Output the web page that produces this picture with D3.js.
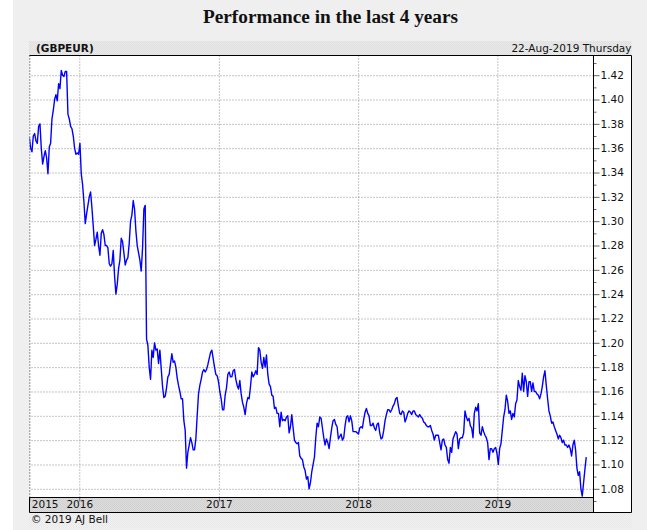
<!DOCTYPE html>
<html><head><meta charset="utf-8">
<script src="https://cdn.jsdelivr.net/npm/d3@7/dist/d3.min.js"></script>
<style>
html,body{margin:0;padding:0;background:#fff;}
svg{display:block;}
</style></head><body>
<svg id="chart" width="647" height="530"></svg>
<script>
// ---------- data ----------
const titleText = "Performance in the last 4 years";
const symbolText = "(GBPEUR)";
const dateText = "22-Aug-2019 Thursday";
const copyrightText = "© 2019 AJ Bell";
const seriesStart = "2015-08-23";
const seriesEnd = "2019-08-22";
const axisStart = "2015-08-23";
const axisEnd = "2019-09-10";
const yearTickDates = ["2015-08-23", "2016-01-01", "2017-01-01", "2018-01-01", "2019-01-01"];
const yearTickLabels = ["2015", "2016", "2017", "2018", "2019"];
const yMajorTicks = [1.08, 1.10, 1.12, 1.14, 1.16, 1.18, 1.20, 1.22, 1.24, 1.26, 1.28, 1.30, 1.32, 1.34, 1.36, 1.38, 1.40, 1.42];
const yMinorTicks = [1.07, 1.09, 1.11, 1.13, 1.15, 1.17, 1.19, 1.21, 1.23, 1.25, 1.27, 1.29, 1.31, 1.33, 1.35, 1.37, 1.39, 1.41, 1.43];
// GBP/EUR rate, sampled twice a week from seriesStart to seriesEnd
const rates = [
1.369,1.360,1.357,1.370,1.372,1.366,1.364,1.378,1.380,1.360,
1.347,1.353,1.358,1.352,1.339,1.361,1.364,1.384,1.391,1.400,
1.404,1.399,1.413,1.409,1.424,1.420,1.419,1.423,1.423,1.388,
1.384,1.378,1.376,1.370,1.360,1.355,1.356,1.355,1.364,1.339,
1.330,1.316,1.298,1.306,1.313,1.320,1.324,1.311,1.296,1.280,
1.285,1.291,1.280,1.272,1.290,1.293,1.289,1.280,1.280,1.278,
1.265,1.263,1.265,1.276,1.255,1.240,1.248,1.261,1.268,1.286,
1.283,1.274,1.264,1.268,1.270,1.282,1.300,1.305,1.317,1.310,
1.292,1.280,1.274,1.268,1.259,1.278,1.310,1.313,1.203,1.198,
1.180,1.170,1.194,1.188,1.200,1.194,1.195,1.183,1.194,1.179,
1.164,1.155,1.156,1.163,1.172,1.174,1.183,1.191,1.184,1.185,
1.180,1.171,1.165,1.160,1.154,1.154,1.136,1.128,1.097,1.110,
1.116,1.122,1.118,1.112,1.112,1.121,1.140,1.158,1.165,1.170,
1.176,1.178,1.176,1.178,1.182,1.187,1.192,1.194,1.187,1.180,
1.174,1.173,1.168,1.160,1.154,1.145,1.145,1.157,1.163,1.174,
1.176,1.172,1.172,1.177,1.178,1.170,1.165,1.162,1.169,1.158,
1.151,1.147,1.141,1.150,1.155,1.154,1.164,1.176,1.172,1.174,
1.177,1.174,1.196,1.194,1.184,1.179,1.188,1.180,1.190,1.174,
1.166,1.164,1.157,1.156,1.146,1.147,1.142,1.142,1.131,1.143,
1.136,1.137,1.136,1.139,1.140,1.126,1.131,1.141,1.130,1.120,
1.118,1.117,1.118,1.107,1.105,1.104,1.098,1.095,1.088,1.090,
1.080,1.085,1.094,1.100,1.106,1.122,1.134,1.131,1.139,1.138,
1.130,1.122,1.116,1.121,1.118,1.113,1.122,1.130,1.136,1.137,
1.133,1.131,1.121,1.123,1.125,1.120,1.122,1.132,1.139,1.140,
1.135,1.140,1.136,1.127,1.127,1.127,1.126,1.125,1.130,1.131,
1.130,1.137,1.143,1.146,1.142,1.140,1.132,1.132,1.134,1.130,
1.128,1.133,1.134,1.126,1.121,1.122,1.128,1.136,1.141,1.145,
1.145,1.143,1.145,1.148,1.150,1.154,1.155,1.148,1.142,1.141,
1.144,1.143,1.135,1.138,1.142,1.144,1.143,1.141,1.144,1.144,
1.141,1.140,1.139,1.141,1.139,1.138,1.135,1.134,1.132,1.131,
1.131,1.132,1.128,1.125,1.120,1.124,1.124,1.124,1.118,1.112,
1.120,1.121,1.116,1.114,1.104,1.101,1.114,1.110,1.121,1.124,
1.127,1.125,1.113,1.121,1.122,1.122,1.126,1.144,1.139,1.136,
1.138,1.132,1.130,1.122,1.142,1.147,1.144,1.150,1.126,1.124,
1.131,1.127,1.124,1.122,1.118,1.104,1.113,1.113,1.110,1.113,
1.114,1.109,1.100,1.113,1.117,1.128,1.139,1.145,1.157,1.152,
1.142,1.144,1.137,1.142,1.139,1.150,1.153,1.169,1.164,1.161,
1.175,1.160,1.173,1.168,1.156,1.168,1.168,1.160,1.167,1.160,
1.160,1.158,1.157,1.154,1.158,1.164,1.172,1.177,1.165,1.154,
1.144,1.140,1.134,1.135,1.131,1.128,1.125,1.121,1.124,1.122,
1.118,1.120,1.116,1.116,1.114,1.116,1.113,1.107,1.116,1.120,
1.112,1.097,1.091,1.094,1.080,1.074,1.085,1.096,1.106
];

// ---------- layout ----------
const W = 647, H = 530;
const L = 29.5, R = 593.5, T = 55.5, B = 497.5, RB = 631.5, BB = 512.5;
const font = '"DejaVu Sans", Verdana, sans-serif';
const parse = d3.utcParse("%Y-%m-%d");
const t0 = parse(seriesStart), t1 = parse(seriesEnd);
const step = (t1 - t0) / (rates.length - 1);
const data = rates.map((v, i) => ({date: new Date(+t0 + i * step), value: v}));

const svg = d3.select("#chart");
const defs = svg.append("defs");

function dotPattern(id, base, dot) {
  const p = defs.append("pattern").attr("id", id).attr("width", 2).attr("height", 2)
    .attr("patternUnits", "userSpaceOnUse");
  p.append("rect").attr("width", 2).attr("height", 2).attr("fill", base);
  p.append("rect").attr("width", 1).attr("height", 1).attr("fill", dot);
  p.append("rect").attr("x", 1).attr("y", 1).attr("width", 1).attr("height", 1).attr("fill", dot);
}
dotPattern("pHead", "#ebebeb", "#dedede");
dotPattern("pBand", "#dedede", "#cfcfcf");
dotPattern("pFoot", "#f3f3f3", "#e7e7e7");

// page background
svg.append("rect").attr("x", 13).attr("y", 0).attr("width", W - 13).attr("height", H).attr("fill", "#efefef");
// header band
svg.append("rect").attr("x", 29).attr("y", 41).attr("width", RB - 29).attr("height", 14).attr("fill", "url(#pHead)");
// plot + axis area
svg.append("rect").attr("x", L).attr("y", T).attr("width", RB - L).attr("height", BB - T).attr("fill", "#fff");
// x label band
svg.append("rect").attr("x", L).attr("y", B).attr("width", R - L).attr("height", BB - B).attr("fill", "url(#pBand)");
// footer band
svg.append("rect").attr("x", 29).attr("y", BB + 0.5).attr("width", RB - 29 + 0.5).attr("height", H - BB - 2).attr("fill", "url(#pFoot)");

// title
const title = svg.append("text").attr("x", 330.5).attr("y", 23).attr("text-anchor", "middle")
  .attr("font-family", '"Liberation Serif", "DejaVu Serif", serif').attr("font-weight", "bold")
  .attr("font-size", 17).attr("fill", "#111").text(titleText);
(function fit() {
  const w = title.node().getComputedTextLength();
  title.attr("font-size", 17 * 255 / w);
})();

svg.append("text").attr("x", 36).attr("y", 52).attr("font-family", font).attr("font-weight", "bold")
  .attr("font-size", 10.5).attr("fill", "#111").text(symbolText);
svg.append("text").attr("x", RB).attr("y", 52).attr("text-anchor", "end").attr("font-family", font)
  .attr("font-size", 10.5).attr("fill", "#111").text(dateText);
svg.append("text").attr("x", 31).attr("y", 523).attr("font-family", font)
  .attr("font-size", 10.5).attr("fill", "#111").text(copyrightText);

// ---------- scales ----------
const x = d3.scaleUtc().domain([parse(axisStart), parse(axisEnd)]).range([L - 0.2, R]);
const y = d3.scaleLinear().domain([1.08, 1.42]).range([488.8, 75.2]);

// horizontal grid
const gy = svg.append("g").attr("transform", `translate(${R},0)`)
  .call(d3.axisLeft(y).tickValues(yMajorTicks).tickSize(R - L).tickFormat(""));
gy.select(".domain").remove();
gy.selectAll(".tick line").attr("stroke", "#8a8a8a").attr("stroke-dasharray", "1,2");

// vertical grid
const gx = svg.append("g").attr("transform", `translate(0,${B})`)
  .call(d3.axisTop(x).tickValues(yearTickDates.map(parse)).tickSize(B - T).tickFormat(""));
gx.select(".domain").remove();
gx.selectAll(".tick line").attr("stroke", (d, i) => i === 0 ? "#222" : "#8a8a8a").attr("stroke-dasharray", "1,2");

// line
const clip = defs.append("clipPath").attr("id", "clip");
clip.append("rect").attr("x", L).attr("y", T).attr("width", R - L).attr("height", B - T);
svg.append("path").datum(data).attr("clip-path", "url(#clip)")
  .attr("fill", "none").attr("stroke", "#0000ff").attr("stroke-width", 1.4).attr("stroke-linejoin", "round")
  .attr("d", d3.line().x(d => x(d.date)).y(d => y(d.value)));

// x axis ticks + labels
const xa = svg.append("g").attr("transform", `translate(0,${B})`)
  .call(d3.axisBottom(x).tickValues(yearTickDates.map(parse)).tickSize(4).tickPadding(1)
    .tickFormat((d, i) => yearTickLabels[i]));
xa.select(".domain").remove();
xa.selectAll(".tick line").attr("stroke", "#666");
xa.selectAll(".tick text").attr("font-family", font).attr("font-size", 10.5).attr("fill", "#111")
  .attr("dy", "0.55em")
  .attr("text-anchor", (d, i) => i === 0 ? "start" : "middle")
  .attr("x", (d, i) => i === 0 ? 2 : 0);

// y axis (right)
const ya = svg.append("g").attr("transform", `translate(${R},0)`);
ya.append("g").call(d3.axisRight(y).tickValues(yMinorTicks).tickSize(3).tickFormat(""))
  .call(g => g.select(".domain").remove())
  .selectAll(".tick line").attr("stroke", "#666");
ya.append("g").call(d3.axisRight(y).tickValues(yMajorTicks).tickSize(6).tickPadding(1).tickFormat(d3.format(".2f")))
  .call(g => g.select(".domain").remove())
  .call(g => g.selectAll(".tick line").attr("stroke", "#666"))
  .call(g => g.selectAll(".tick text").attr("font-family", font).attr("font-size", 10.5).attr("fill", "#111"));

// frames
const fr = svg.append("g").attr("fill", "none").attr("stroke", "#000").attr("stroke-width", 1);
fr.append("line").attr("x1", L).attr("x2", RB).attr("y1", T).attr("y2", T);
fr.append("line").attr("x1", RB).attr("x2", RB).attr("y1", T).attr("y2", BB);
fr.append("line").attr("x1", R).attr("x2", R).attr("y1", T).attr("y2", BB);
fr.append("line").attr("x1", L).attr("x2", R).attr("y1", B).attr("y2", B);
fr.append("line").attr("x1", L).attr("x2", RB).attr("y1", BB).attr("y2", BB);
fr.append("line").attr("x1", L).attr("x2", L).attr("y1", B).attr("y2", BB);
</script>
</body></html>
